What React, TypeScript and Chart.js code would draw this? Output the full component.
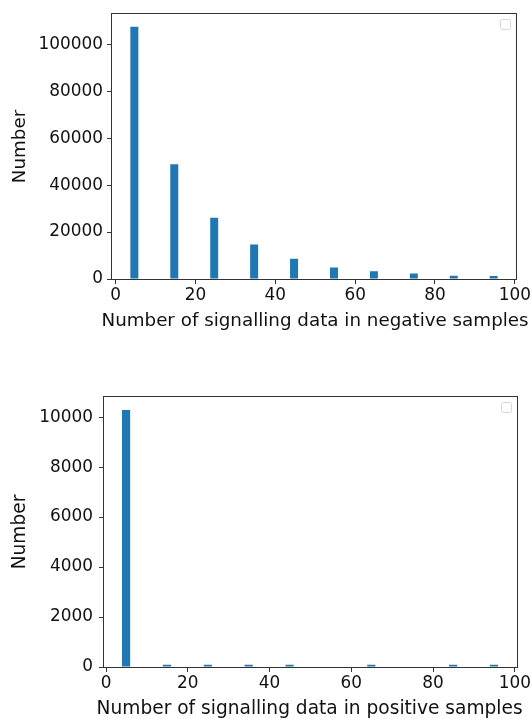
import React, { useEffect, useRef } from "react";
import { Chart, registerables } from "chart.js";

Chart.register(...registerables);

// ---- data ----
const xTickValues = [0, 20, 40, 60, 80, 100];

const negativeBinCenters = [4.7, 14.7, 24.7, 34.7, 44.7, 54.7, 64.7, 74.7, 84.7, 94.7];
const negativeCounts = [107500, 48950, 26070, 14700, 8660, 4890, 3350, 2380, 1350, 1300];
const negativeYTicks = [0, 20000, 40000, 60000, 80000, 100000];

const positiveBinCenters = [4.9, 14.9, 24.9, 34.9, 44.9, 54.9, 64.9, 74.9, 84.9, 94.9];
const positiveCounts = [10290, 90, 90, 90, 90, 0, 90, 0, 90, 90];
const positiveYTicks = [0, 2000, 4000, 6000, 8000, 10000];

const negativeXLabel = "Number of signalling data in negative samples";
const positiveXLabel = "Number of signalling data in positive samples";
const yLabel = "Number";

// ---- style ----
const FONT = "DejaVu Sans";
const TICK_SIZE = 16.9;
const TEXT = "#111111";
const AXIS = "#333333";
const BAR = "#1f77b4";

function makeFramePlugin(xLabel: string, titleSize: number, titleShift: number) {
  return {
    id: "frame",
    afterDraw(chart: any) {
      const { ctx, chartArea: a } = chart;
      ctx.save();
      ctx.strokeStyle = AXIS;
      ctx.lineWidth = 1;
      const l = Math.round(a.left) - 0.5;
      const t = Math.round(a.top) - 0.5;
      const r = Math.round(a.right) + 0.5;
      const b = Math.round(a.bottom) + 0.5;
      ctx.strokeRect(l, t, r - l, b - t);
      // empty legend frame
      ctx.strokeStyle = "#d6d6d6";
      ctx.lineWidth = 1;
      const lx = r - 16;
      const ly = t + 6;
      const s = 10;
      const rad = 2;
      ctx.beginPath();
      ctx.moveTo(lx + rad, ly);
      ctx.lineTo(lx + s - rad, ly);
      ctx.quadraticCurveTo(lx + s, ly, lx + s, ly + rad);
      ctx.lineTo(lx + s, ly + s - rad);
      ctx.quadraticCurveTo(lx + s, ly + s, lx + s - rad, ly + s);
      ctx.lineTo(lx + rad, ly + s);
      ctx.quadraticCurveTo(lx, ly + s, lx, ly + s - rad);
      ctx.lineTo(lx, ly + rad);
      ctx.quadraticCurveTo(lx, ly, lx + rad, ly);
      ctx.stroke();
      // x-axis title (drawn without width compression)
      ctx.fillStyle = TEXT;
      ctx.font = `${titleSize}px "${FONT}"`;
      ctx.textAlign = "center";
      ctx.textBaseline = "alphabetic";
      ctx.fillText(xLabel, (a.left + a.right) / 2 + titleShift, a.bottom + 46.5);
      ctx.restore();
    },
  };
}

interface PanelProps {
  centers: number[];
  counts: number[];
  yTicks: number[];
  xMin: number;
  xMax: number;
  yMax: number;
  yAxisWidth: number;
  yTickPadding: number;
  titleSize: number;
  titleShift: number;
  padding: { top: number; right: number; bottom: number; left: number };
  xLabel: string;
  width: number;
  height: number;
  top: number;
}

function Panel(p: PanelProps) {
  const ref = useRef<HTMLCanvasElement>(null);
  useEffect(() => {
    if (!ref.current) return;
    const gridCfg = {
      display: true,
      drawOnChartArea: false,
      drawTicks: true,
      tickLength: 5,
      color: AXIS,
      lineWidth: 1,
      offset: false,
    };
    const chart = new Chart(ref.current, {
      type: "bar",
      data: {
        datasets: [
          {
            data: p.centers.map((c, i) => ({ x: c, y: p.counts[i] })),
            backgroundColor: BAR,
            borderWidth: 0,
            barPercentage: 0.2,
            categoryPercentage: 1,
          },
        ],
      },
      options: {
        animation: false,
        responsive: false,
        devicePixelRatio: 1,
        layout: { padding: p.padding },
        plugins: { legend: { display: false }, tooltip: { enabled: false } },
        scales: {
          x: {
            type: "linear",
            min: p.xMin,
            max: p.xMax,
            offset: false,
            grid: gridCfg,
            border: { display: false },
            ticks: {
              font: { family: FONT, size: TICK_SIZE },
              color: TEXT,
              padding: 1,
              maxRotation: 0,
              autoSkip: false,
              callback: (v: any) => String(v),
            },
            afterBuildTicks: (s: any) => {
              s.ticks = xTickValues.map((v) => ({ value: v }));
            },
            afterFit: (s: any) => {
              s.height = 51;
            },
            title: { display: false },
          },
          y: {
            type: "linear",
            min: 0,
            max: p.yMax,
            grid: gridCfg,
            border: { display: false },
            ticks: {
              font: { family: FONT, size: TICK_SIZE },
              color: TEXT,
              padding: p.yTickPadding,
              autoSkip: false,
              callback: (v: any) => String(v),
            },
            afterBuildTicks: (s: any) => {
              s.ticks = p.yTicks.map((v) => ({ value: v }));
            },
            afterFit: (s: any) => {
              s.width = p.yAxisWidth;
            },
            title: {
              display: true,
              text: yLabel,
              font: { family: FONT, size: p.titleSize },
              color: TEXT,
              padding: { top: 9, bottom: 0 },
            },
          },
        },
      },
      plugins: [makeFramePlugin(p.xLabel, p.titleSize, p.titleShift)],
    } as any);
    return () => chart.destroy();
  }, []);
  return (
    <canvas
      ref={ref}
      width={p.width}
      height={p.height}
      style={{ position: "absolute", left: 0, top: p.top, width: p.width, height: p.height }}
    />
  );
}

export default function App() {
  return (
    <div style={{ position: "absolute", left: 0, top: 0, width: 532, height: 719, background: "#fff" }}>
      <Panel
        centers={negativeBinCenters}
        counts={negativeCounts}
        yTicks={negativeYTicks}
        xMin={-0.9}
        xMax={100.3}
        yMax={112900}
        yAxisWidth={112}
        yTickPadding={4}
        titleSize={18.3}
        titleShift={1}
        padding={{ top: 9, right: 13, bottom: 15, left: 0 }}
        xLabel={negativeXLabel}
        width={532}
        height={345}
        top={0}
      />
      <Panel
        centers={positiveBinCenters}
        counts={positiveCounts}
        yTicks={positiveYTicks}
        xMin={-0.5}
        xMax={100.6}
        yMax={10807}
        yAxisWidth={104}
        yTickPadding={6}
        titleSize={18.6}
        titleShift={-1}
        padding={{ top: 52, right: 12, bottom: 1, left: 0 }}
        xLabel={positiveXLabel}
        width={532}
        height={374}
        top={345}
      />
    </div>
  );
}
